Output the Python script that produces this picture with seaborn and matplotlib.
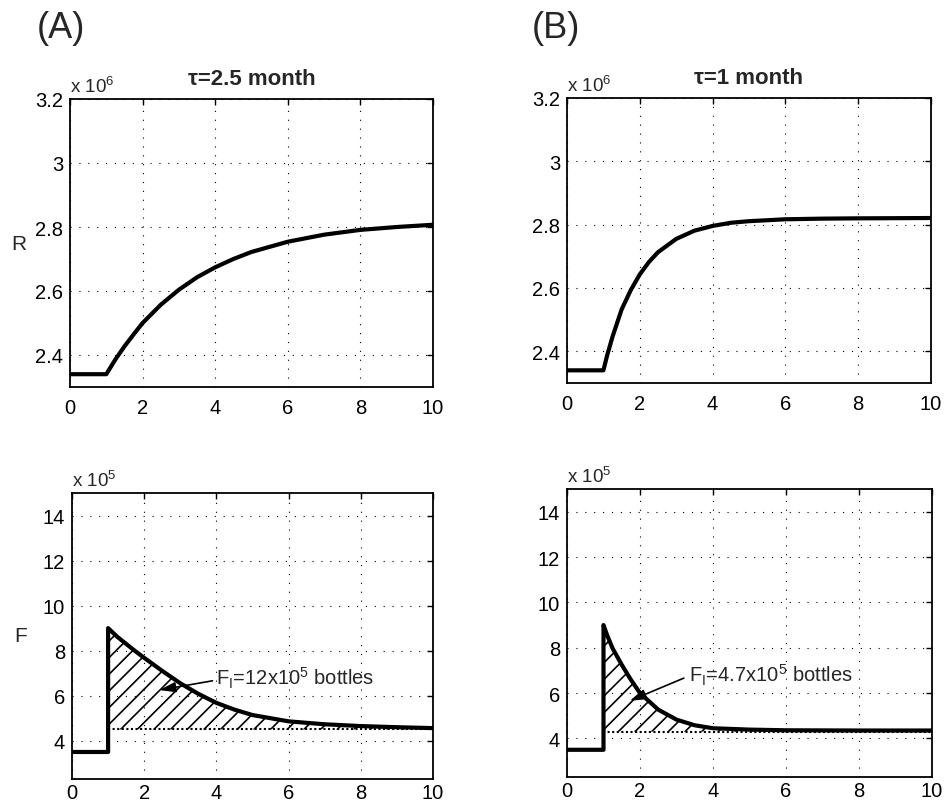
import numpy as np
import pandas as pd
import matplotlib
matplotlib.use("Agg")
import matplotlib.pyplot as plt
import seaborn as sns

# --- valeurs ---
# R (x 10^6), tau = 2.5 mois
t_r_a = [0, 1, 1.25, 1.5, 1.75, 2, 2.5, 3, 3.5, 4, 4.5, 5, 6, 7, 8, 9, 10]
r_a = [2.34, 2.34, 2.386, 2.427, 2.464, 2.50, 2.557, 2.604, 2.643, 2.674,
       2.700, 2.722, 2.754, 2.776, 2.791, 2.800, 2.807]

# R (x 10^6), tau = 1 mois
t_r_b = [0, 1, 1.1, 1.25, 1.5, 1.75, 2, 2.25, 2.5, 3, 3.5, 4, 4.5, 5, 6, 7, 8, 10]
r_b = [2.34, 2.34, 2.386, 2.446, 2.532, 2.593, 2.643, 2.682, 2.713, 2.755,
       2.781, 2.796, 2.806, 2.811, 2.817, 2.819, 2.820, 2.821]

# F (x 10^5), tau = 2.5 mois
t_f_a = [0, 1, 1, 1.25, 1.5, 1.75, 2, 2.5, 3, 3.5, 4, 4.5, 5, 6, 7, 8, 9, 10]
f_a = [3.5, 3.5, 9.0, 8.62, 8.3, 7.98, 7.68, 7.1, 6.55, 6.08, 5.68, 5.38,
       5.14, 4.86, 4.73, 4.65, 4.60, 4.56]
base_f_a = 4.5

# F (x 10^5), tau = 1 mois
t_f_b = [0, 1, 1, 1.1, 1.25, 1.5, 1.75, 2, 2.5, 3, 3.5, 4, 5, 6, 8, 10]
f_b = [3.5, 3.5, 9.0, 8.55, 7.97, 7.25, 6.59, 6.0, 5.27, 4.83, 4.58, 4.45,
       4.39, 4.36, 4.35, 4.35]
base_f_b = 4.3

titles = ["\u03c4=2.5 month", "\u03c4=1 month"]
labels_fi = [r"F$_\mathregular{I}$=12x10$^\mathregular{5}$ bottles",
             r"F$_\mathregular{I}$=4.7x10$^\mathregular{5}$ bottles"]
# (tete de fleche, queue, position du texte)
arrows_fi = [((2.42, 6.25), (3.89, 6.66), (4.0, 6.5)),
             ((1.72, 5.66), (3.2, 6.66), (3.33, 6.5))]

sns.set_style("white")
plt.rcParams['font.family'] = ['Liberation Sans', 'DejaVu Sans']
plt.rcParams['mathtext.fontset'] = 'custom'
plt.rcParams['mathtext.rm'] = 'Liberation Sans'
plt.rcParams['hatch.linewidth'] = 1.2
plt.rcParams['hatch.color'] = 'black'

fig = plt.figure(figsize=(9.45, 8.04), dpi=100)
W, H = 945, 804


def rect(l, r, t, b):
    return [l / W, 1 - b / H, (r - l) / W, (b - t) / H]


ax_ra = fig.add_axes(rect(70, 433, 100, 388))
ax_rb = fig.add_axes(rect(567, 931, 99, 384))
ax_fa = fig.add_axes(rect(72, 433, 494, 780))
ax_fb = fig.add_axes(rect(567, 932, 490, 778))


def style_axes(ax, ylim, yticks, expo, xpad):
    ax.set_xlim(0, 10)
    ax.set_ylim(*ylim)
    ax.set_xticks(range(0, 11, 2))
    ax.set_yticks(yticks)
    ax.set_yticklabels([f"{v:g}" for v in yticks])
    ax.grid(True, color='black', linestyle=(0, (1, 7)), linewidth=0.8)
    ax.tick_params(direction='in', top=True, right=True, length=4, width=1,
                   labelsize=14.5, colors='black')
    ax.tick_params(axis='x', pad=xpad)
    ax.tick_params(axis='y', pad=5)
    for s in ax.spines.values():
        s.set_color('black')
        s.set_linewidth(1.3)
    ax.set_xlabel('')
    ax.set_ylabel('')
    ax.text(0, 1.025, "x 10$^\\mathregular{" + expo + "}$", transform=ax.transAxes,
            ha='left', va='baseline', fontsize=13.5)


# courbes R
for ax, t, r, title in [(ax_ra, t_r_a, r_a, titles[0]), (ax_rb, t_r_b, r_b, titles[1])]:
    sns.lineplot(x=t, y=r, estimator=None, sort=False, color='black',
                 linewidth=3, ax=ax)
    style_axes(ax, (2.3, 3.2), [2.4, 2.6, 2.8, 3.0, 3.2], "6", 8)
    ax.set_title(title, fontsize=16, fontweight='bold', pad=11)

# courbes F avec zone hachuree
for ax, t, f, base, lab, arr in [(ax_fa, t_f_a, f_a, base_f_a, labels_fi[0], arrows_fi[0]),
                                 (ax_fb, t_f_b, f_b, base_f_b, labels_fi[1], arrows_fi[1])]:
    df = pd.DataFrame({"t": t, "F": f})
    after = df.iloc[2:]
    ax.fill_between(after["t"], base, after["F"], facecolor='none',
                    edgecolor='black', hatch='//', linewidth=0)
    ax.plot([after["t"].iloc[0], 10], [base, base], color='black',
            linestyle=(0, (1, 1.2)), linewidth=1.5)
    sns.lineplot(data=df, x="t", y="F", estimator=None, sort=False,
                 color='black', linewidth=3, ax=ax)
    style_axes(ax, (2.3, 15), [4, 6, 8, 10, 12, 14], "5", 3)
    head, tail, txt = arr
    ax.annotate('', xy=head, xytext=tail,
                arrowprops=dict(arrowstyle='-|>,head_length=0.7,head_width=0.22',
                                color='black', lw=1.2, mutation_scale=14,
                                shrinkA=0, shrinkB=0))
    ax.text(txt[0], txt[1], lab, fontsize=14.5, ha='left', va='baseline')

ax_ra.set_ylabel('R', rotation=0, fontsize=15, va='center', ha='center')
ax_ra.yaxis.set_label_coords(-0.14, 0.5)
ax_fa.set_ylabel('F', rotation=0, fontsize=15, va='center', ha='center')
ax_fa.yaxis.set_label_coords(-0.141, 0.5)

fig.text(37 / W, 1 - 28 / H, "(A)", fontsize=26, ha='left', va='center')
fig.text(532 / W, 1 - 28 / H, "(B)", fontsize=26, ha='left', va='center')

fig.savefig("out.png", dpi=100)
plt.close(fig)
